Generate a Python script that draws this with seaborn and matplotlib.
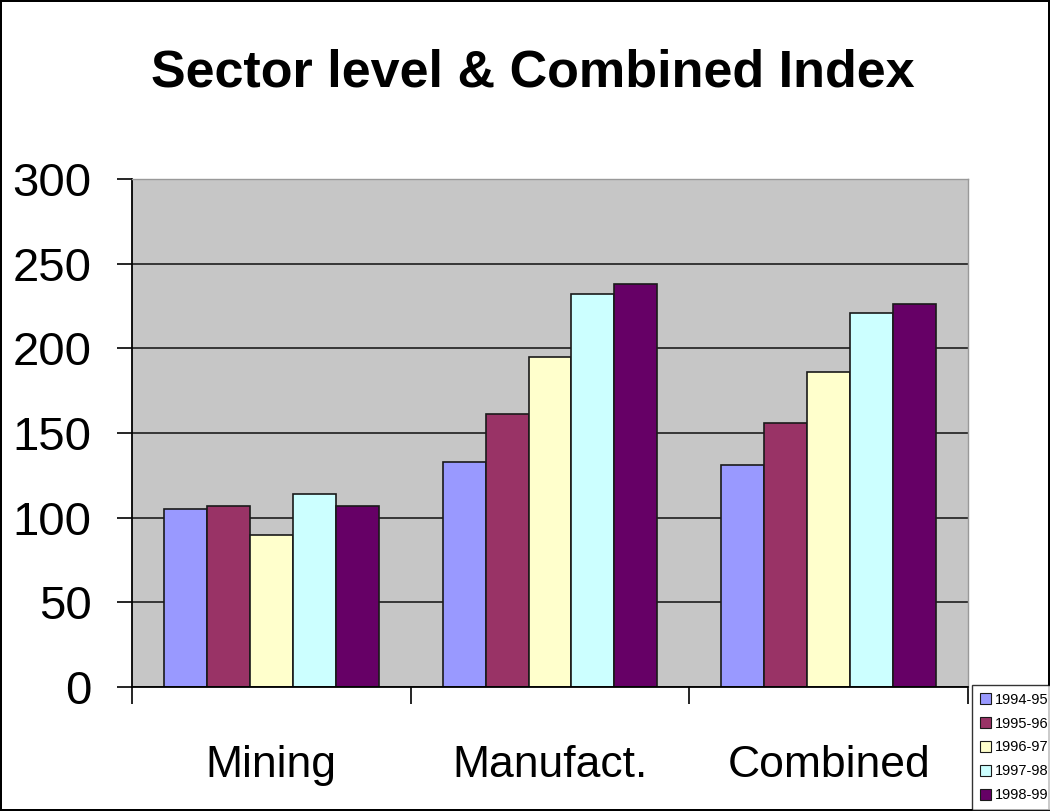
import matplotlib
matplotlib.use("Agg")
import matplotlib.pyplot as plt
import seaborn as sns
import pandas as pd

sectors = ["Mining", "Manufact.", "Combined"]
years = ["1994-95", "1995-96", "1996-97", "1997-98", "1998-99"]
mining = [105, 107, 90, 114, 107]
manufact = [133, 161, 195, 232, 238]
combined = [131, 156, 186, 221, 226]
colors = ["#9999FF", "#993366", "#FFFFCC", "#CCFFFF", "#660066"]

rows = []
for sector, vals in zip(sectors, [mining, manufact, combined]):
    for yr, v in zip(years, vals):
        rows.append({"sector": sector, "year": yr, "value": v})
df = pd.DataFrame(rows)

sns.set_style("white")
plt.rcParams["font.family"] = ["Liberation Sans", "DejaVu Sans"]
plt.rcParams["text.color"] = "black"
plt.rcParams["xtick.color"] = "black"
plt.rcParams["ytick.color"] = "black"

fig = plt.figure(figsize=(10.5, 8.11), dpi=100)
fig.patch.set_edgecolor("black")
fig.patch.set_linewidth(1.5)
ax = fig.add_axes([0.1257, 0.1529, 0.7962, 0.6264])
ax.set_facecolor("#c6c6c6")

sns.barplot(data=df, x="sector", y="value", hue="year", palette=colors,
            width=0.77, edgecolor="#1a1a1a", linewidth=1.2, saturation=1,
            ax=ax, legend=False)

ax.set_ylim(0, 300)
ax.set_xlim(-0.5, 2.5)
ax.set_yticks(range(0, 301, 50))
ax.yaxis.grid(True, color="#2a2a2a", linewidth=1.3)
ax.set_axisbelow(True)
ax.set_xlabel("")
ax.set_ylabel("")
ax.tick_params(axis="y", labelsize=34, length=11, width=1.2, pad=18, left=True,
               color="black", labelcolor="black")
ax.tick_params(axis="x", labelsize=32, length=0, pad=42, labelcolor="black")
ax.set_xticks([-0.5, 0.5, 1.5, 2.5], minor=True)
ax.tick_params(axis="x", which="minor", length=12, width=1.2, bottom=True, color="black")

for s in ["left", "bottom"]:
    ax.spines[s].set_color("black")
    ax.spines[s].set_linewidth(1.3)
for s in ["top", "right"]:
    ax.spines[s].set_color("#999999")
    ax.spines[s].set_linewidth(1)

fig.text(0.507, 0.91, "Sector level & Combined Index", ha="center", va="center",
         fontsize=37.5, fontweight="bold", color="black")

handles = [plt.Rectangle((0, 0), 1, 1, facecolor=c, edgecolor="#1a1a1a", linewidth=0.8)
           for c in colors]
leg = fig.legend(handles, years, loc="upper left", bbox_to_anchor=(0.926, 0.155),
                 fontsize=10.5, frameon=True, fancybox=False, edgecolor="black",
                 handlelength=0.75, handleheight=0.75, handletextpad=0.3,
                 labelspacing=0.68, borderpad=0.5, borderaxespad=0)
leg.get_frame().set_linewidth(1)

fig.savefig("out.png", dpi=100)
